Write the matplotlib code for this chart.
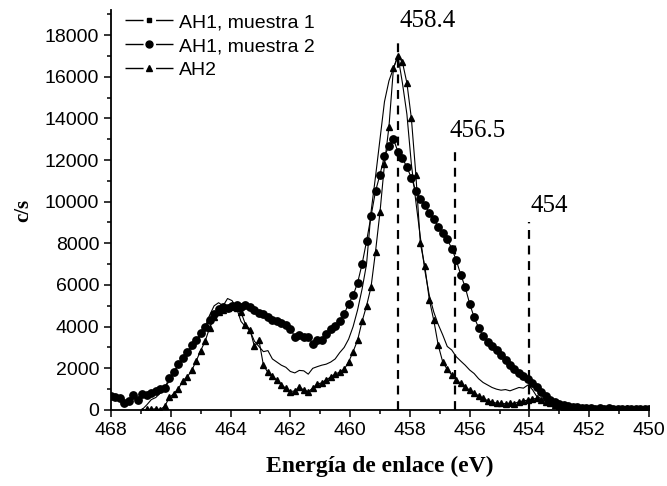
import numpy as np
import matplotlib
matplotlib.use("Agg")
from matplotlib import pyplot as plt
from matplotlib.lines import Line2D
from matplotlib.legend_handler import HandlerTuple
from matplotlib.ticker import MultipleLocator

# binding energy grid (eV), 0.15 eV step from 468 down to 450
energy = np.round(468.0 - 0.15 * np.arange(121), 2)

# AH1, muestra 1 (c/s)
ah1_m1 = [
    -1200, -1000, -850, -700, -550, -380, -150, 30, 250, 500,
    600, 820, 1050, 1400, 1800, 2150, 2400, 2650, 2950, 3300,
    3550, 4000, 4550, 5000, 5150, 5000, 5350, 5250, 4900, 4250,
    4000, 3800, 3300, 3050, 2800, 2850, 2450, 2300, 2150, 2050,
    1850, 1780, 1900, 1880, 1720, 2000, 2080, 2150, 2200, 2300,
    2450, 2750, 3000, 3400, 4000, 4800, 5800, 7000, 9500, 11200,
    13000, 14800, 15800, 16400, 17000, 15700, 14200, 11800, 10000, 8300,
    6700, 5500, 4700, 4100, 3600, 3050, 2880, 2560, 2350, 2150,
    1920, 1750, 1500, 1320, 1200, 1080, 1000, 950, 980, 920,
    1000, 1080, 1050, 1200, 980, 640, 550, 420, 250, 190,
    160, 130, 110, 100, 90, 110, 80, 90, 70, 80,
    60, 80, 50, 70, 60, 50, 70, 40, 60, 50, 40,
]

# AH1, muestra 2 (c/s)
ah1_m2 = [
    660, 620, 560, 330, 450, 700, 480, 780, 720, 800,
    900, 1000, 1050, 1550, 1800, 2200, 2500, 2800, 3100, 3350,
    3700, 3980, 4300, 4600, 4850, 4950, 4900, 4980, 5050, 4950,
    5050, 4960, 4780, 4650, 4600, 4450, 4320, 4250, 4180, 4080,
    3900, 3520, 3620, 3480, 3520, 3150, 3360, 3340, 3650, 3900,
    4050, 4250, 4600, 5100, 5500, 6100, 7000, 8100, 9300, 10500,
    11300, 12200, 12650, 13000, 12400, 12100, 11650, 11150, 10500, 10150,
    9850, 9450, 9150, 8800, 8500, 8200, 7750, 7200, 6500, 5900,
    5100, 4450, 3950, 3550, 3250, 3050, 2880, 2650, 2420, 2150,
    1950, 1780, 1620, 1480, 1300, 1100, 880, 650, 480, 370,
    300, 220, 180, 140, 120, 100, 80, 95, 70, 85,
    60, 75, 50, 65, 50, 70, 40, 60, 50, 45, 60,
]

# AH2 (c/s)
ah2 = [
    -1500, -1300, -1100, -900, -700, -500, -300, -50, 40, 30,
    60, 20, 180, 600, 780, 1000, 1400, 1580, 1900, 2350,
    2850, 3300, 3950, 4450, 4700, 4800, 4880, 4950, 4900, 4700,
    4100, 3850, 3050, 3350, 2150, 1800, 1650, 1420, 1200, 1050,
    880, 920, 1100, 960, 880, 1050, 1250, 1300, 1450, 1580,
    1720, 1820, 1950, 2300, 2800, 3350, 4250, 5000, 5900, 7600,
    9500, 11800, 13600, 16400, 17000, 16700, 15700, 14000, 11300, 8000,
    6900, 5300, 4300, 3100, 2300, 1950, 1680, 1450, 1280, 1120,
    950, 820, 680, 560, 450, 380, 330, 320, 300, 330,
    310, 400, 430, 480, 530, 560, 480, 400, 320, 250,
    200, 150, 120, 100, 90, 110, 80, 100, 70, 90,
    60, 80, 60, 70, 50, 80, 40, 60, 50, 40, 60,
]

# reference binding energies marked with dashed lines, and line heights
ref_energy = [458.4, 456.5, 454.0]
ref_labels = ["458.4", "456.5", "454"]
ref_top = [17900, 12600, 9000]

serif = "Liberation Serif"
sans = "Liberation Sans"

fig = plt.figure(figsize=(6.67, 4.86), dpi=100)
ax = fig.add_axes([0.1664, 0.1564, 0.8066, 0.8230])

ax.plot(energy, ah1_m1, color="k", lw=0.8)
ax.plot(energy, ah1_m2, color="k", lw=0.8, marker="o", ms=5.3)
ax.plot(energy, ah2, color="k", lw=0.8, marker="^", ms=3.8)

for e, top, lab, dx in zip(ref_energy, ref_top, ref_labels, [0.05, -0.17, 0.03]):
    ax.plot([e, e], [0, top], color="k", lw=1.6, linestyle=(0, (4, 3)))
    ax.text(e - dx, top + 250, lab, fontsize=18, family=serif, ha="left", va="bottom")

ax.set_xlim(468, 450)
ax.set_ylim(0, 19200)
ax.xaxis.set_major_locator(MultipleLocator(2))
ax.xaxis.set_minor_locator(MultipleLocator(1))
ax.yaxis.set_major_locator(MultipleLocator(2000))
ax.yaxis.set_minor_locator(MultipleLocator(1000))

for side in ["top", "right"]:
    ax.spines[side].set_visible(False)
for side in ["left", "bottom"]:
    ax.spines[side].set_linewidth(1.3)
ax.tick_params(which="major", length=5, width=1.1, labelsize=14)
ax.tick_params(which="minor", length=3, width=1.1)
for lbl in ax.get_xticklabels() + ax.get_yticklabels():
    lbl.set_family(sans)

ax.set_xlabel("Energía de enlace (eV)", fontsize=17, fontweight="bold", family=serif, labelpad=12)
ax.set_ylabel("c/s", fontsize=15, fontweight="bold", family=serif, labelpad=8)

# legend samples: two short segments with the marker in the gap between them
def handle(marker, ms):
    seg = Line2D([], [], color="k", lw=1.0, dashes=(13, 9, 13, 9))
    mk = Line2D([], [], color="k", ls="none", marker=marker, ms=ms)
    return (seg, mk)

ax.legend([handle("s", 2.2), handle("o", 5), handle("^", 4)],
          ["AH1, muestra 1", "AH1, muestra 2", "AH2"],
          handler_map={tuple: HandlerTuple(ndivide=1)},
          loc="upper left", bbox_to_anchor=(0.0, 1.025), frameon=False,
          prop={"family": sans, "size": 14}, handlelength=2.5,
          handletextpad=0.3, labelspacing=0.33, borderpad=0.2)

fig.savefig("out.png", dpi=100)
